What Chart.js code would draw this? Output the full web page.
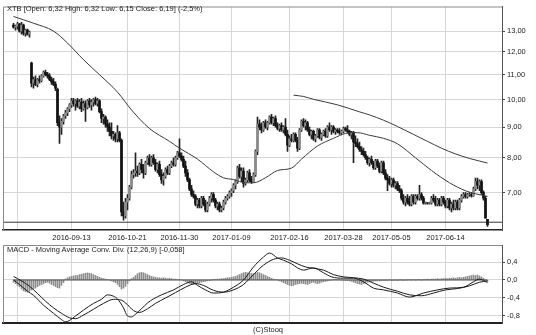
<!DOCTYPE html>
<html><head><meta charset="utf-8">
<script src="https://cdn.jsdelivr.net/npm/chart.js@4.4.1/dist/chart.umd.min.js"></script>
<style>
html,body{margin:0;padding:0;background:#fff;}
#wrap{position:relative;width:536px;height:335px;overflow:hidden;background:#fff;}
canvas{position:absolute;left:0;top:0;}
.t{position:absolute;font-family:'Liberation Sans',Arial,sans-serif;font-size:7.5px;line-height:9px;color:#222;white-space:nowrap;}
</style></head><body>
<div id="wrap">
<canvas id="main" width="536" height="335"></canvas>
<canvas id="macd" width="536" height="335"></canvas>
<div class="t" style="left:7px;top:4px;">XTB [Open: 6,32 High: 6,32 Low: 6,15 Close: 6,19] (-2,5%)</div>
<div class="t" style="left:7px;top:245px;">MACD - Moving Average Conv. Div. (12,26,9) [-0,058]</div>
<div class="t" style="left:253px;top:325px;">(C)Stooq</div>
</div>
<script>
// ---- price data (one entry per trading day) ----
const opens = [
13.30,13.20,13.25,13.35,13.00,13.30,12.90,13.05,12.85,11.50,
10.65,10.80,10.60,10.80,10.75,10.95,11.10,11.00,10.95,10.80,
10.70,10.60,10.40,9.15,9.00,9.20,9.40,9.50,9.65,9.80,
9.95,9.85,9.95,9.75,9.90,9.65,9.85,9.70,9.95,9.80,
9.90,10.00,9.85,9.95,9.55,9.30,9.35,9.10,9.00,8.85,
8.70,8.75,8.60,8.80,8.55,6.50,6.40,6.75,6.85,7.15,
7.50,7.55,7.60,7.55,7.80,7.65,7.55,7.85,8.00,7.80,
8.00,7.85,7.65,7.80,7.50,7.35,7.45,7.65,7.55,7.75,
7.85,7.80,8.00,8.15,8.05,7.95,7.75,7.55,7.35,7.10,
6.95,6.90,6.70,6.80,6.65,6.85,6.70,6.55,6.70,6.85,
6.95,6.80,6.65,6.70,6.55,6.60,6.75,6.85,6.90,7.00,
7.05,7.20,7.30,7.70,7.45,7.60,7.25,7.35,7.55,7.35,
7.30,7.50,8.20,9.10,9.00,8.90,9.15,9.00,9.15,9.35,
9.15,9.30,9.05,8.95,9.05,8.90,9.00,8.75,8.40,8.60,
8.55,8.75,8.55,8.30,8.90,9.20,9.05,9.15,8.90,8.75,
8.85,8.60,8.70,8.90,8.65,8.75,8.85,8.70,9.00,8.90,
9.00,8.85,8.90,8.85,8.80,8.85,8.95,8.90,8.85,8.75,
8.80,8.50,8.45,8.35,8.25,8.20,8.10,8.00,7.85,7.95,
7.85,7.70,7.90,7.75,7.60,7.85,7.55,7.40,7.35,7.25,
7.35,7.20,7.25,7.10,7.05,6.85,6.75,6.85,6.75,6.70,
6.90,6.75,6.90,6.85,6.95,6.85,6.72,6.73,6.72,6.73,
6.85,6.80,6.70,6.80,6.70,6.85,6.75,6.65,6.80,6.60,
6.70,6.60,6.75,6.60,6.80,6.90,6.95,6.90,6.95,6.95,
6.92,7.10,7.30,7.20,7.30,7.00,6.85,6.32];
const highs = [
13.40,13.30,13.45,13.40,13.45,13.35,13.10,13.10,13.00,11.55,
10.90,10.95,10.85,10.95,11.00,11.15,11.20,11.10,11.05,10.90,
10.85,10.70,10.45,9.40,9.30,9.45,9.60,9.70,9.85,10.05,
10.05,10.00,10.05,10.00,10.05,9.95,9.95,10.00,10.05,10.00,
10.05,10.10,10.05,10.00,9.65,9.45,9.40,9.25,9.15,9.15,
8.85,8.80,9.05,8.85,8.60,6.75,6.85,6.95,7.20,7.60,
7.65,8.15,7.75,7.85,7.95,7.80,7.90,8.05,8.10,8.05,
8.10,7.95,7.85,7.90,7.65,7.55,7.70,7.75,7.80,7.90,
8.00,8.05,8.20,8.60,8.15,8.05,7.90,7.65,7.40,7.20,
7.05,6.95,6.85,6.85,6.90,6.90,6.80,6.75,6.90,7.00,
7.00,6.85,6.75,6.75,6.65,6.80,6.90,6.95,7.05,7.10,
7.25,7.35,7.75,7.80,7.70,7.70,7.40,7.60,7.65,7.45,
7.55,8.25,9.35,9.25,9.15,9.20,9.25,9.20,9.40,9.45,
9.35,9.40,9.15,9.10,9.15,9.05,9.30,8.90,8.70,8.75,
8.80,8.80,8.65,8.95,9.25,9.30,9.25,9.20,9.00,8.90,
8.90,8.75,8.95,8.95,8.80,8.90,8.95,9.05,9.15,9.05,
9.05,8.95,8.95,8.95,8.90,9.00,9.00,9.05,8.90,8.85,
8.85,8.70,8.60,8.50,8.35,8.30,8.20,8.05,8.00,8.05,
7.90,7.95,7.95,7.85,7.90,7.90,7.65,7.50,7.45,7.40,
7.40,7.30,7.30,7.20,7.10,6.95,6.90,6.95,6.90,6.95,
6.95,6.95,6.95,7.20,7.00,6.90,6.75,6.74,6.75,6.90,
6.95,6.90,6.85,6.85,6.90,6.90,6.80,6.85,6.85,6.75,
6.80,6.80,6.80,6.85,6.95,7.00,7.00,6.98,7.00,7.00,
7.15,7.40,7.40,7.35,7.35,7.05,6.90,6.32];
const lows = [
13.15,13.05,13.10,12.95,12.85,12.80,12.75,12.80,12.70,10.50,
10.45,10.55,10.50,10.65,10.70,10.90,10.95,10.85,10.75,10.60,
10.55,10.35,9.05,8.45,8.75,9.10,9.30,9.40,9.55,9.70,
9.75,9.60,9.70,9.65,9.55,9.60,9.20,9.65,9.70,9.60,
9.75,9.80,9.75,9.50,9.15,9.10,9.00,8.85,8.70,8.60,
8.55,8.50,8.50,8.50,6.40,6.30,6.35,6.55,6.80,7.10,
7.40,7.45,7.45,7.50,7.55,7.40,7.50,7.80,7.75,7.75,
7.80,7.60,7.55,7.45,7.25,7.20,7.40,7.50,7.50,7.70,
7.75,7.75,7.95,8.00,7.90,7.70,7.45,7.30,7.05,6.90,
6.85,6.65,6.60,6.60,6.60,6.65,6.50,6.50,6.65,6.75,
6.75,6.60,6.55,6.50,6.50,6.55,6.70,6.80,6.85,6.90,
7.00,7.10,7.25,7.40,7.30,7.15,7.20,7.30,7.30,7.25,
7.28,7.45,8.10,8.90,8.80,8.85,8.95,8.90,9.10,9.10,
9.05,9.00,8.90,8.85,8.85,8.80,8.70,8.20,8.35,8.50,
8.50,8.50,8.20,8.25,8.85,9.00,8.90,8.85,8.70,8.60,
8.55,8.50,8.65,8.60,8.55,8.70,8.65,8.65,8.85,8.75,
8.80,8.75,8.80,8.75,8.75,8.80,8.85,8.80,8.70,8.60,
7.85,8.35,8.30,8.20,8.10,8.05,7.95,7.80,7.75,7.80,
7.65,7.65,7.70,7.55,7.55,7.50,7.35,7.05,7.20,7.15,
7.15,7.10,7.05,7.00,6.80,6.70,6.65,6.70,6.65,6.65,
6.70,6.70,6.80,6.80,6.80,6.70,6.70,6.70,6.70,6.70,
6.75,6.65,6.65,6.65,6.65,6.70,6.60,6.60,6.55,6.50,
6.55,6.55,6.55,6.55,6.75,6.85,6.85,6.85,6.90,6.88,
6.90,7.05,7.10,7.05,6.95,6.80,6.35,6.15];
const closes = [
13.20,13.25,13.35,13.00,13.30,12.90,13.05,12.85,12.95,10.65,
10.80,10.60,10.80,10.75,10.95,11.10,11.00,10.95,10.80,10.70,
10.60,10.45,9.15,9.00,9.20,9.40,9.50,9.65,9.80,9.95,
9.85,9.95,9.75,9.90,9.65,9.85,9.70,9.95,9.80,9.90,
10.00,9.85,9.95,9.55,9.30,9.35,9.10,9.00,8.85,8.70,
8.75,8.60,8.80,8.55,6.50,6.40,6.75,6.85,7.15,7.50,
7.55,7.60,7.55,7.80,7.65,7.55,7.85,8.00,7.80,8.00,
7.85,7.65,7.80,7.50,7.35,7.45,7.65,7.55,7.75,7.85,
7.80,8.00,8.15,8.05,7.95,7.75,7.55,7.35,7.10,6.95,
6.90,6.70,6.80,6.65,6.85,6.70,6.55,6.70,6.85,6.95,
6.80,6.65,6.70,6.55,6.60,6.75,6.85,6.90,7.00,7.05,
7.20,7.30,7.70,7.45,7.60,7.25,7.35,7.55,7.35,7.30,
7.50,8.20,9.10,9.00,8.90,9.15,9.00,9.15,9.35,9.15,
9.30,9.05,8.95,9.05,8.90,9.00,8.75,8.40,8.60,8.55,
8.75,8.55,8.30,8.90,9.20,9.05,9.15,8.90,8.75,8.85,
8.60,8.70,8.90,8.65,8.75,8.85,8.70,9.00,8.90,9.00,
8.85,8.90,8.85,8.80,8.85,8.95,8.90,8.85,8.75,8.80,
8.50,8.45,8.35,8.25,8.20,8.10,8.00,7.85,7.95,7.85,
7.70,7.90,7.75,7.60,7.85,7.55,7.40,7.35,7.25,7.35,
7.20,7.25,7.10,7.05,6.85,6.75,6.85,6.75,6.70,6.90,
6.75,6.90,6.85,6.95,6.85,6.72,6.73,6.72,6.73,6.85,
6.80,6.70,6.80,6.70,6.85,6.75,6.65,6.80,6.60,6.70,
6.60,6.75,6.60,6.80,6.90,6.95,6.90,6.95,6.95,6.92,
7.10,7.30,7.20,7.30,7.00,6.85,6.35,6.19];

// moving averages (day index -> value)
const ma1Idx = [0,10,20,27,35,43,52,59,68,78,83,92,100,105,110,116,120,126,132,139,144,152,160,166,172,178,185,192,201,209,218,226,231,237];
const ma1Val = [13.75,13.40,13.00,12.42,11.65,11.00,10.29,9.61,8.95,8.52,8.30,7.96,7.58,7.41,7.36,7.27,7.27,7.41,7.62,7.69,7.96,8.37,8.62,8.78,8.81,8.72,8.62,8.44,8.00,7.62,7.27,7.05,6.97,6.90];
const ma2Idx = [140,145,150,162,173,178,185,192,200,207,214,221,228,233,237];
const ma2Val = [10.17,10.12,10.01,9.80,9.54,9.43,9.24,9.02,8.75,8.52,8.30,8.12,7.98,7.90,7.84];
const levelLine = 6.25;

// MACD panel
const macdIdx = [0,3,7,10,15,20,24,26,28,31,35,40,44,47,50,52,55,57,59,61,64,67,70,74,80,85,89,92,96,100,105,110,115,120,125,128,132,135,139,142,145,150,155,159,165,170,175,180,185,192,198,205,212,218,225,230,233,237];
const macdVal = [0.00,-0.10,-0.25,-0.34,-0.56,-0.74,-0.88,-0.93,-0.90,-0.80,-0.67,-0.52,-0.43,-0.33,-0.36,-0.42,-0.62,-0.80,-0.82,-0.76,-0.64,-0.51,-0.42,-0.33,-0.22,-0.10,-0.04,-0.12,-0.22,-0.29,-0.27,-0.16,0.00,0.29,0.51,0.60,0.49,0.44,0.36,0.27,0.22,0.27,0.16,0.07,0.04,0.04,-0.04,-0.18,-0.22,-0.29,-0.38,-0.29,-0.22,-0.18,-0.16,-0.04,0.02,-0.058];
const sigIdx = [0,4,8,12,16,20,24,28,31,35,40,45,50,54,57,60,63,67,71,76,81,86,91,95,100,105,110,115,120,125,130,134,138,142,146,150,155,160,165,170,175,180,185,192,198,204,210,216,222,228,233,237];
const sigVal = [0.08,-0.02,-0.14,-0.30,-0.47,-0.62,-0.74,-0.84,-0.86,-0.78,-0.65,-0.52,-0.43,-0.45,-0.55,-0.68,-0.72,-0.64,-0.52,-0.40,-0.28,-0.16,-0.08,-0.12,-0.23,-0.27,-0.22,-0.10,0.12,0.33,0.46,0.49,0.44,0.36,0.29,0.26,0.22,0.12,0.07,0.05,0.02,-0.07,-0.16,-0.25,-0.33,-0.35,-0.29,-0.22,-0.19,-0.13,-0.05,-0.02];
const hist = [
-0.05,-0.08,-0.12,-0.15,-0.20,-0.24,-0.26,-0.27,-0.25,-0.22,
-0.20,-0.18,-0.15,-0.12,-0.10,-0.08,-0.06,-0.05,-0.07,-0.10,
-0.12,-0.15,-0.17,-0.18,-0.12,-0.06,0.02,0.05,0.07,0.08,
0.09,0.10,0.10,0.12,0.13,0.14,0.15,0.16,0.15,0.14,
0.12,0.10,0.08,0.06,0.04,0.03,0.02,0.01,0.00,-0.02,
-0.04,-0.06,-0.10,-0.15,-0.20,-0.18,-0.14,-0.08,-0.02,0.03,
0.06,0.10,0.14,0.16,0.17,0.16,0.14,0.12,0.10,0.08,
0.07,0.06,0.05,0.05,0.04,0.05,0.04,0.03,0.04,0.03,
0.02,0.02,0.01,0.01,0.00,-0.02,-0.04,-0.06,-0.08,-0.09,
-0.10,-0.08,-0.07,-0.06,-0.05,-0.04,-0.03,-0.02,-0.01,0.00,
0.01,0.01,0.02,0.02,0.03,0.03,0.04,0.05,0.05,0.06,
0.07,0.08,0.10,0.12,0.14,0.16,0.17,0.16,0.15,0.15,
0.14,0.15,0.17,0.16,0.14,0.12,0.10,0.08,0.06,0.04,
0.02,0.01,0.00,-0.02,-0.04,-0.06,-0.08,-0.10,-0.12,-0.13,
-0.12,-0.10,-0.09,-0.08,-0.07,-0.08,-0.09,-0.10,-0.08,-0.06,
-0.05,-0.07,-0.08,-0.07,-0.05,-0.04,-0.03,-0.02,-0.01,0.00,
0.01,0.01,0.01,0.01,0.00,0.00,-0.01,-0.01,-0.02,-0.03,
-0.05,-0.06,-0.08,-0.09,-0.10,-0.08,-0.07,-0.05,-0.04,-0.03,
-0.03,-0.02,-0.02,-0.02,-0.01,-0.01,-0.01,-0.01,0.00,-0.01,
-0.01,0.00,-0.01,0.00,0.00,-0.01,0.00,0.00,0.01,0.00,
0.01,0.00,0.01,0.01,0.00,0.01,0.01,0.02,0.01,0.02,
0.02,0.02,0.03,0.02,0.03,0.03,0.04,0.03,0.04,0.04,
0.05,0.04,0.05,0.06,0.05,0.06,0.07,0.08,0.09,0.10,
0.11,0.10,0.11,0.09,0.07,0.04,0.00,-0.03];

// axes
const tickIdx = [2,29,57,83,109,138,165,189,216];
const tickDates = ['2016-08-05','2016-09-13','2016-10-21','2016-11-30','2017-01-09','2017-02-16','2017-03-28','2017-05-05','2017-06-14'];
const priceTicks = [7,8,9,10,11,12,13];
const macdTicks = [-0.8,-0.4,0,0.4];

// ---- rendering ----
Chart.defaults.font.family = "'Liberation Sans', Arial, sans-serif";
Chart.defaults.font.size = 7.5;
Chart.defaults.color = '#222';

const X_MIN = -5.25, X_MAX = 244.25;
const GRID = '#d6d6d6';

const framePlugin = {
  id: 'frame',
  afterDraw(chart, args, opts) {
    const {ctx, chartArea: a} = chart;
    ctx.save();
    ctx.strokeStyle = opts.color || '#888';
    ctx.lineWidth = 1;
    ctx.beginPath();
    ctx.moveTo(a.left + 0.5, a.bottom);
    ctx.lineTo(a.left + 0.5, a.top + 0.5);
    ctx.lineTo(a.right, a.top + 0.5);
    ctx.stroke();
    ctx.restore();
  }
};

function xScale(showLabels, borderW, h) {
  return {
    type: 'linear', min: X_MIN, max: X_MAX, offset: false, bounds: 'data',
    grid: {color: GRID, offset: false, drawTicks: false},
    border: {display: true, color: '#222', width: borderW},
    ticks: {display: showLabels, autoSkip: false, maxRotation: 0, minRotation: 0, padding: 3, color: '#222',
      callback: (v) => { const k = tickIdx.indexOf(v); return k <= 0 ? '' : tickDates[k]; }},
    afterBuildTicks: (s) => { s.ticks = tickIdx.map(v => ({value: v})); },
    afterFit: (s) => { s.height = h; }
  };
}

const up = (i) => closes[i] >= opens[i];
const bodyData = opens.map((o, i) => ({x: i, y: [o, closes[i]]}));
const wickData = lows.map((l, i) => ({x: i, y: [l, highs[i]]}));
const ma1 = ma1Idx.map((x, i) => ({x, y: ma1Val[i]}));
const ma2 = ma2Idx.map((x, i) => ({x, y: ma2Val[i]}));

new Chart(document.getElementById('main'), {
  type: 'bar',
  data: {datasets: [
    {type: 'line', data: ma1, borderColor: '#3a3a3a', borderWidth: 1, pointRadius: 0, cubicInterpolationMode: 'monotone', order: 0},
    {type: 'line', data: ma2, borderColor: '#3a3a3a', borderWidth: 1, pointRadius: 0, cubicInterpolationMode: 'monotone', order: 0},
    {type: 'bar', data: bodyData, grouped: false, barThickness: 2, borderSkipped: false, borderWidth: 0,
      backgroundColor: (c) => up(c.dataIndex) ? '#8c8c8c' : '#111111', order: 1},
    {type: 'bar', data: wickData, grouped: false, barThickness: 1, borderWidth: 0, backgroundColor: '#222', order: 2},
    {type: 'line', data: [{x: X_MIN, y: levelLine}, {x: X_MAX, y: levelLine}], borderColor: '#333', borderWidth: 1, pointRadius: 0, order: 3}
  ]},
  options: {
    responsive: false, animation: false, events: [],
    layout: {padding: {left: 3, top: 3, right: 0, bottom: 0}},
    plugins: {legend: {display: false}, tooltip: {enabled: false}, frame: {color: '#8a8a8a'}},
    scales: {
      x: xScale(true, 1.5, 105),
      y: {
        type: 'logarithmic', position: 'right', min: 6.066, max: 14.286, bounds: 'data',
        grid: {color: GRID, tickColor: '#444', tickLength: 3},
        border: {display: true, color: '#555'},
        ticks: {padding: 2, color: '#222', autoSkip: false, callback: (v) => Number(v).toFixed(2).replace('.', ',')},
        afterBuildTicks: (s) => { s.ticks = priceTicks.map(v => ({value: v})); },
        afterFit: (s) => { s.width = 34; }
      }
    }
  },
  plugins: [framePlugin]
});

const macdLine = macdIdx.map((x, i) => ({x, y: macdVal[i]}));
const sigLine = sigIdx.map((x, i) => ({x, y: sigVal[i]}));
const histData = hist.map((v, i) => ({x: i, y: v}));

new Chart(document.getElementById('macd'), {
  type: 'bar',
  data: {datasets: [
    {type: 'line', data: macdLine, borderColor: '#1a1a1a', borderWidth: 1, pointRadius: 0, cubicInterpolationMode: 'monotone', order: 0},
    {type: 'line', data: sigLine, borderColor: '#1a1a1a', borderWidth: 1, pointRadius: 0, cubicInterpolationMode: 'monotone', order: 1},
    {type: 'line', data: [{x: 0, y: 0}, {x: hist.length - 1, y: 0}], borderColor: '#444', borderWidth: 1, pointRadius: 0, order: 2},
    {type: 'bar', data: histData, grouped: false, barThickness: 1, borderWidth: 0, backgroundColor: '#8c8c8c', order: 3}
  ]},
  options: {
    responsive: false, animation: false, events: [],
    layout: {padding: {left: 3, top: 245, right: 0, bottom: 0}},
    plugins: {legend: {display: false}, tooltip: {enabled: false}, frame: {color: '#8a8a8a'}},
    scales: {
      x: xScale(false, 2, 12),
      y: {
        type: 'linear', position: 'right', min: -0.956, max: 0.778, bounds: 'data', beginAtZero: false,
        grid: {color: GRID, tickColor: '#444', tickLength: 3},
        border: {display: true, color: '#555'},
        ticks: {padding: 2, color: '#222', autoSkip: false,
          callback: (v) => (Math.abs(v) < 1e-9 ? 0 : v).toFixed(1).replace('.', ',')},
        afterBuildTicks: (s) => { s.ticks = macdTicks.map(v => ({value: v})); },
        afterFit: (s) => { s.width = 34; }
      }
    }
  },
  plugins: [framePlugin]
});
</script>
</body></html>
